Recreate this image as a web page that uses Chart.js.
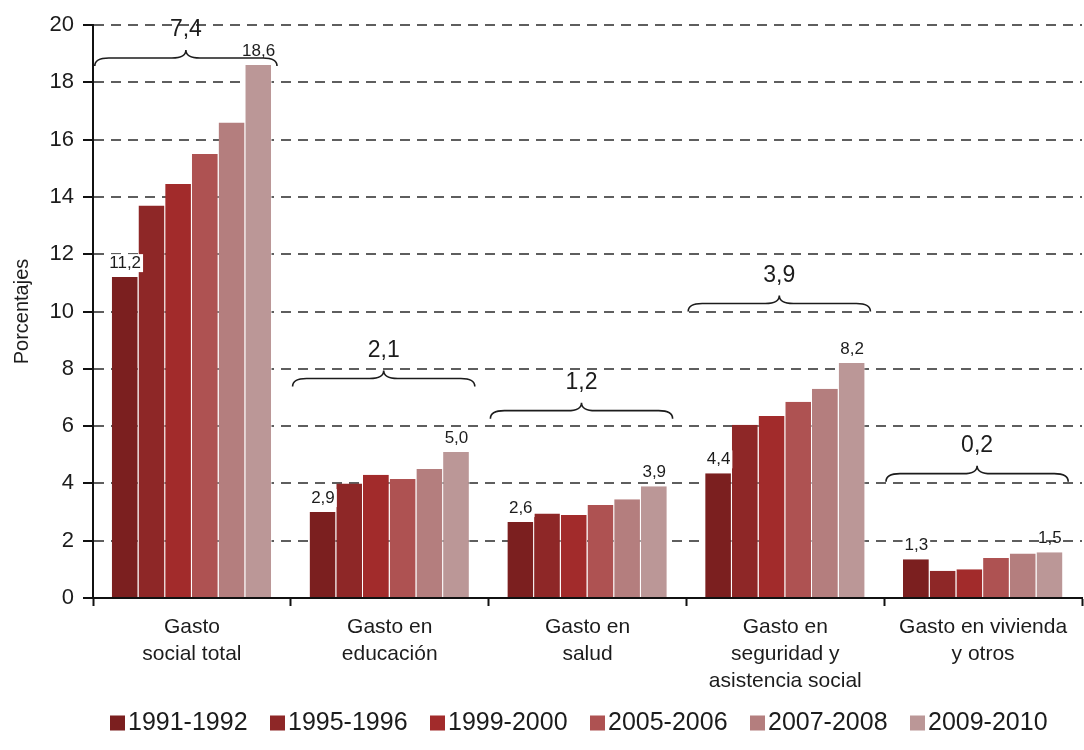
<!DOCTYPE html>
<html>
<head>
<meta charset="utf-8">
<script src="https://cdn.jsdelivr.net/npm/chart.js@4.4.0/dist/chart.umd.min.js"></script>
<style>
  html, body { margin: 0; padding: 0; background: #fff; }
  #wrap { width: 1084px; height: 750px; }
</style>
</head>
<body>
<div id="wrap"><canvas id="chart" width="1084" height="750"></canvas></div>
<script>
const categories = [
  ['Gasto', 'social total'],
  ['Gasto en', 'educación'],
  ['Gasto en', 'salud'],
  ['Gasto en', 'seguridad y', 'asistencia social'],
  ['Gasto en vivienda', 'y otros']
];
const periods = ['1991-1992', '1995-1996', '1999-2000', '2005-2006', '2007-2008', '2009-2010'];

// values, one array per period
const v1991 = [11.2, 3.0, 2.65, 4.35, 1.35];
const v1995 = [13.7, 4.0, 2.95, 6.05, 0.95];
const v1999 = [14.45, 4.3, 2.9, 6.35, 1.0];
const v2005 = [15.5, 4.15, 3.25, 6.85, 1.4];
const v2007 = [16.6, 4.5, 3.45, 7.3, 1.55];
const v2009 = [18.6, 5.1, 3.9, 8.2, 1.6];

// printed labels on first / last bar, and the change shown over each brace
const firstLabels = ['11,2', '2,9', '2,6', '4,4', '1,3'];
const lastLabels = ['18,6', '5,0', '3,9', '8,2', '1,5'];
const changeLabels = ['7,4', '2,1', '1,2', '3,9', '0,2'];

const yTicks = [0, 2, 4, 6, 8, 10, 12, 14, 16, 18, 20];

const colors = ['#7b1f1f', '#8e2727', '#a22b2b', '#ae5252', '#b47e7e', '#bb9797'];
const series = [v1991, v1995, v1999, v2005, v2007, v2009];

const FONT = "'Liberation Sans', Arial, sans-serif";
const INK = '#1c1c1c';

function drawBrace(ctx, x1, x2, y, h, r) {
  const xm = (x1 + x2) / 2;
  ctx.beginPath();
  ctx.moveTo(x1, y + h);
  ctx.quadraticCurveTo(x1, y, x1 + r, y);
  ctx.lineTo(xm - r, y);
  ctx.quadraticCurveTo(xm, y, xm, y - h);
  ctx.quadraticCurveTo(xm, y, xm + r, y);
  ctx.lineTo(x2 - r, y);
  ctx.quadraticCurveTo(x2, y, x2, y + h);
  ctx.stroke();
}

const annotations = {
  id: 'annotations',
  afterDatasetsDraw(chart, args, opts) {
    const ctx = chart.ctx;
    const y = chart.scales.y;
    const first = chart.getDatasetMeta(0).data;
    const last = chart.getDatasetMeta(series.length - 1).data;
    ctx.save();
    ctx.strokeStyle = INK;
    ctx.lineWidth = 1.6;
    ctx.textAlign = 'center';
    ctx.textBaseline = 'middle';
    categories.forEach((c, i) => {
      const b0 = first[i], b1 = last[i];
      // end labels
      ctx.font = '17px ' + FONT;
      const ly0 = b0.y - 14;
      const w0 = ctx.measureText(firstLabels[i]).width;
      ctx.fillStyle = '#fff';
      ctx.fillRect(b0.x - w0 / 2 - 2, ly0 - 9, w0 + 4, 18);
      ctx.fillStyle = INK;
      ctx.fillText(firstLabels[i], b0.x, ly0);
      ctx.fillText(lastLabels[i], b1.x, b1.y - 14);
      // braces
      const left = b0.x - b0.width / 2 - 17;
      const right = b1.x + b1.width / 2 + 5;
      const by = y.getPixelForValue(opts.levels[i]);
      drawBrace(ctx, left, right, by, 8, 14);
      ctx.font = '23px ' + FONT;
      ctx.fillText(changeLabels[i], (left + right) / 2, by - 28);
    });
    ctx.restore();
  },
  afterDraw(chart, args, opts) {
    // legend row under the axis labels
    const ctx = chart.ctx;
    ctx.save();
    ctx.font = '25px ' + FONT;
    ctx.textBaseline = 'middle';
    ctx.textAlign = 'left';
    periods.forEach((p, k) => {
      const x = opts.legendX + k * opts.legendStep;
      ctx.fillStyle = colors[k];
      ctx.fillRect(x, opts.legendY - 7.5, 15, 15);
      ctx.fillStyle = INK;
      ctx.fillText(p, x + 18, opts.legendY);
    });
    ctx.restore();
  }
};

new Chart(document.getElementById('chart'), {
  type: 'bar',
  data: {
    labels: categories,
    datasets: series.map((vals, k) => ({
      label: periods[k],
      data: vals,
      backgroundColor: colors[k],
      borderColor: 'rgba(255,255,255,0.55)',
      borderWidth: { left: 0, right: 1, top: 0, bottom: 0 },
      borderSkipped: false,
      categoryPercentage: 0.81,
      barPercentage: 1
    }))
  },
  options: {
    responsive: false,
    animation: false,
    layout: { padding: { left: 8, right: 2, top: 25, bottom: 50 } },
    plugins: {
      tooltip: { enabled: false },
      legend: { display: false },
      annotations: {
        levels: [18.85, 7.66, 6.54, 10.28, 4.34],
        legendX: 110,
        legendY: 723,
        legendStep: 160
      }
    },
    scales: {
      x: {
        grid: {
          display: true,
          drawOnChartArea: false,
          tickLength: 8,
          tickColor: '#111',
          tickWidth: 2,
          offset: true
        },
        border: { display: true, color: '#111', width: 2 },
        ticks: {
          color: INK,
          padding: 8,
          maxRotation: 0,
          autoSkip: false,
          font: { family: FONT, size: 21, lineHeight: 1.28 }
        },
        afterFit(scale) { scale.height = 102; }
      },
      y: {
        min: 0,
        max: 20,
        afterBuildTicks(scale) { scale.ticks = yTicks.map(v => ({ value: v })); },
        grid: {
          color: (c) => c.tick && c.tick.value === 0 ? 'rgba(0,0,0,0)' : '#5e5e5e',
          lineWidth: 2,
          tickBorderDash: [],
          tickColor: '#111',
          tickWidth: 2,
          tickLength: 10
        },
        border: { display: true, color: '#111', width: 2, dash: [10, 7] },
        ticks: {
          color: INK,
          padding: 9,
          font: { family: FONT, size: 22 }
        },
        title: {
          display: true,
          text: 'Porcentajes',
          color: INK,
          padding: { top: 2, bottom: 0 },
          font: { family: FONT, size: 20 }
        },
        afterFit(scale) { scale.width = 85; }
      }
    }
  },
  plugins: [annotations]
});
</script>
</body>
</html>
